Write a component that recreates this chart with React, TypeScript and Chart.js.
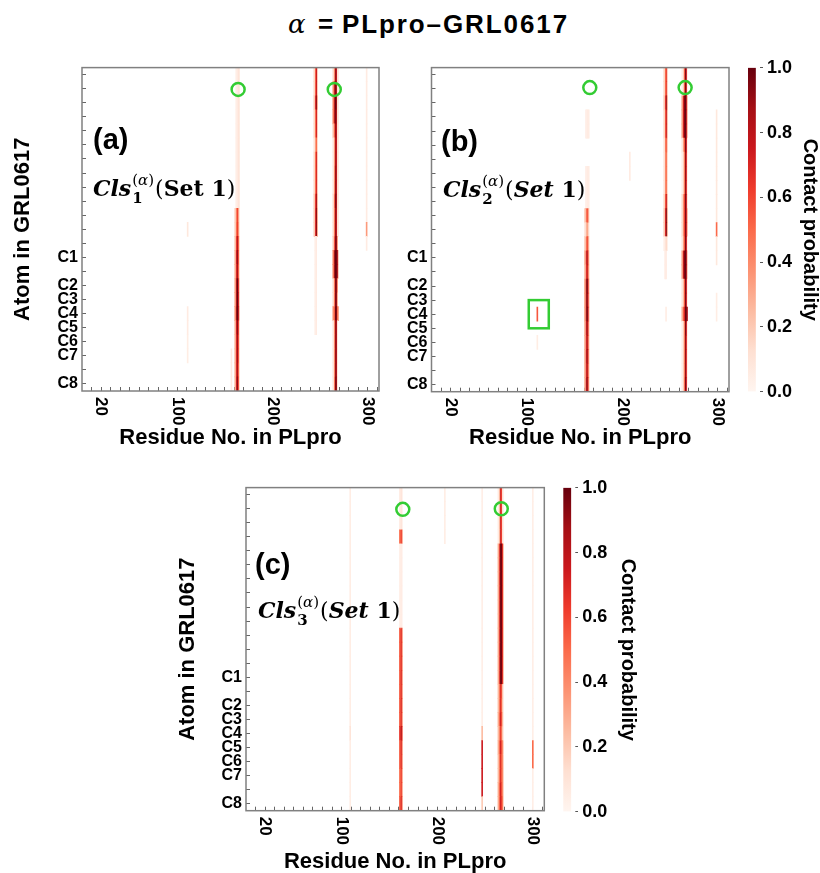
import React, { useEffect, useRef } from 'react';
import { Chart, registerables } from 'chart.js';

Chart.register(...registerables);

const SANS = '"Liberation Sans", Arial, sans-serif';
const SERIF = '"DejaVu Serif", serif';
Chart.defaults.font.family = SANS;
Chart.defaults.color = '#000';

// ---------- axis / tick content ----------
const ROW_LABELS = ['', '', '', '', '', '', '', '', '', '', '', '', '', 'C1', '', 'C2', 'C3', 'C4', 'C5', 'C6', 'C7', '', 'C8'];
const X_MIN = 0;
const X_MAX = 312;
const X_MINOR_TICKS = [10, 20, 30, 40, 50, 60, 70, 80, 90, 100, 110, 120, 130, 140, 150, 160, 170, 180, 190, 200, 210, 220, 230, 240, 250, 260, 270, 280, 290, 300, 310];
const X_TICK_LABELS = [20, 100, 200, 300];
const CB_TICKS = [0, 0.2, 0.4, 0.6, 0.8, 1.0];
const REDS = ['#fff5f0', '#fee0d2', '#fcbba1', '#fc9272', '#fb6a4a', '#ef3b2c', '#cb181d', '#a50f15', '#67000d'];

// ---------- panel (a): contact probability per residue, rows top -> bottom ----------
const A_RESIDUES = [111, 157, 161, 162, 163, 164, 165, 244, 245, 246, 247, 264, 265, 266, 267, 268, 269, 299];
const A_PROBS = [
  [0, 0, 0, 0, 0, 0, 0, 0, 0, 0, 0, 0.08, 0, 0, 0, 0, 0, 0.06, 0.06, 0.05, 0.05, 0, 0],
  [0, 0, 0, 0, 0, 0, 0, 0, 0, 0, 0, 0, 0, 0, 0, 0, 0, 0, 0, 0, 0.06, 0.06, 0.06],
  [0, 0, 0, 0, 0, 0, 0, 0, 0, 0, 0.2, 0.2, 0.25, 0.3, 0.3, 0.35, 0.35, 0.4, 0.3, 0.3, 0.3, 0.3, 0.3],
  [0.04, 0.04, 0.04, 0.04, 0.04, 0.04, 0.04, 0.04, 0.04, 0.04, 0.45, 0.5, 0.65, 0.75, 0.7, 0.85, 0.85, 0.9, 0.75, 0.7, 0.7, 0.7, 0.75],
  [0.06, 0.06, 0.06, 0.06, 0.06, 0.06, 0.06, 0.06, 0.06, 0.06, 0.6, 0.62, 0.8, 0.9, 0.85, 1, 1, 1, 0.92, 0.88, 0.88, 0.85, 0.92],
  [0.1, 0.1, 0.1, 0.1, 0.1, 0.1, 0.1, 0.1, 0.1, 0.1, 0.35, 0.4, 0.55, 0.6, 0.55, 0.7, 0.75, 0.8, 0.65, 0.6, 0.6, 0.55, 0.6],
  [0.08, 0.08, 0.08, 0.08, 0.08, 0.08, 0.08, 0.08, 0.08, 0.08, 0.1, 0.1, 0.15, 0.15, 0.15, 0.2, 0.2, 0.25, 0.15, 0.15, 0.15, 0.15, 0.15],
  [0.15, 0.15, 0.2, 0.15, 0.15, 0.1, 0.15, 0.15, 0.15, 0.2, 0.2, 0.2, 0, 0, 0, 0, 0, 0, 0, 0, 0, 0, 0],
  [0.55, 0.55, 0.7, 0.5, 0.5, 0.35, 0.5, 0.5, 0.5, 0.65, 0.7, 0.7, 0.04, 0.04, 0.04, 0.04, 0.04, 0.04, 0.04, 0, 0, 0, 0],
  [0.75, 0.75, 0.9, 0.72, 0.72, 0.5, 0.7, 0.7, 0.7, 0.85, 0.92, 0.92, 0.06, 0.06, 0.06, 0.06, 0.06, 0.06, 0.06, 0, 0, 0, 0],
  [0.2, 0.2, 0.3, 0.2, 0.2, 0.15, 0.2, 0.2, 0.2, 0.25, 0.3, 0.3, 0, 0, 0, 0, 0, 0, 0, 0, 0, 0, 0],
  [0.15, 0.4, 0.45, 0.45, 0.25, 0.1, 0.1, 0.1, 0.1, 0.15, 0.15, 0.15, 0.2, 0.45, 0.45, 0.15, 0.15, 0.4, 0.1, 0.1, 0.1, 0.1, 0.1],
  [0.45, 0.8, 0.85, 0.85, 0.55, 0.4, 0.4, 0.45, 0.45, 0.55, 0.5, 0.5, 0.6, 0.9, 0.9, 0.5, 0.5, 0.55, 0.45, 0.45, 0.45, 0.45, 0.5],
  [0.9, 0.95, 1, 0.95, 0.9, 0.85, 0.85, 0.9, 0.9, 0.95, 0.9, 0.9, 0.95, 1, 1, 0.95, 0.95, 1, 0.9, 0.9, 0.9, 0.9, 0.95],
  [0.8, 0.85, 0.9, 0.85, 0.8, 0.78, 0.78, 0.8, 0.8, 0.85, 0.8, 0.8, 0.9, 0.97, 0.97, 0.9, 0.9, 0.95, 0.85, 0.85, 0.85, 0.85, 0.9],
  [0.12, 0.12, 0.12, 0.12, 0.12, 0.12, 0.12, 0.12, 0.12, 0.12, 0.12, 0.12, 0.35, 0.85, 0.85, 0.4, 0.3, 0.5, 0.1, 0.1, 0.1, 0.1, 0.1],
  [0.08, 0.08, 0.08, 0.08, 0.08, 0.08, 0.08, 0.08, 0.08, 0.08, 0.08, 0.08, 0, 0.2, 0.2, 0, 0, 0.35, 0, 0, 0, 0, 0],
  [0.06, 0.06, 0.06, 0.06, 0.06, 0.06, 0.06, 0.06, 0.06, 0.06, 0.06, 0.35, 0.06, 0, 0, 0, 0, 0, 0, 0, 0, 0, 0],
];

// ---------- panel (b) ----------
const B_RESIDUES = [111, 161, 162, 163, 164, 165, 208, 244, 245, 246, 247, 263, 264, 265, 266, 267, 268, 299];
const B_PROBS = [
  [0, 0, 0, 0, 0, 0, 0, 0, 0, 0, 0, 0, 0, 0, 0, 0, 0, 0.55, 0, 0.05, 0, 0, 0],
  [0, 0, 0, 0, 0, 0, 0, 0, 0, 0, 0.2, 0.1, 0.2, 0.3, 0.25, 0.35, 0.35, 0.35, 0.3, 0.3, 0.3, 0.3, 0.3],
  [0, 0, 0, 0.04, 0.04, 0, 0, 0.04, 0.04, 0.04, 0.45, 0.25, 0.45, 0.7, 0.65, 0.85, 0.85, 0.85, 0.75, 0.7, 0.75, 0.7, 0.8],
  [0, 0, 0, 0.06, 0.06, 0, 0, 0.06, 0.06, 0.06, 0.6, 0.35, 0.62, 0.85, 0.8, 1, 0.95, 1, 0.9, 0.85, 0.9, 0.85, 0.92],
  [0, 0, 0, 0.06, 0.06, 0, 0, 0.06, 0.06, 0.06, 0.4, 0.2, 0.4, 0.55, 0.5, 0.65, 0.65, 0.7, 0.6, 0.55, 0.6, 0.55, 0.6],
  [0, 0, 0, 0.04, 0.04, 0, 0, 0.04, 0.04, 0.04, 0.1, 0.05, 0.1, 0.15, 0.15, 0.2, 0.2, 0.2, 0.15, 0.15, 0.15, 0.15, 0.15],
  [0, 0, 0, 0, 0, 0, 0.06, 0.06, 0, 0, 0, 0, 0, 0, 0, 0, 0, 0, 0, 0, 0, 0, 0],
  [0.15, 0.15, 0.2, 0.15, 0.15, 0.1, 0.1, 0.1, 0.1, 0.15, 0.2, 0.2, 0.04, 0, 0, 0, 0, 0, 0, 0, 0, 0, 0],
  [0.5, 0.5, 0.65, 0.55, 0.55, 0.45, 0.4, 0.4, 0.4, 0.55, 0.7, 0.7, 0.1, 0.05, 0.05, 0, 0, 0, 0, 0, 0, 0, 0],
  [0.65, 0.65, 0.9, 0.75, 0.75, 0.55, 0.5, 0.5, 0.5, 0.75, 0.95, 0.95, 0.15, 0.06, 0.06, 0, 0, 0.05, 0, 0, 0, 0, 0],
  [0.2, 0.2, 0.3, 0.25, 0.25, 0.2, 0.15, 0.15, 0.15, 0.25, 0.3, 0.3, 0.05, 0, 0, 0, 0, 0, 0, 0, 0, 0, 0],
  [0.05, 0.05, 0.35, 0.35, 0.35, 0.1, 0.05, 0.05, 0.05, 0.15, 0.15, 0.15, 0.1, 0.35, 0.35, 0.1, 0.1, 0.3, 0.05, 0.05, 0.05, 0.05, 0.05],
  [0.2, 0.2, 0.75, 0.75, 0.75, 0.35, 0.2, 0.2, 0.2, 0.4, 0.4, 0.4, 0.35, 0.8, 0.8, 0.25, 0.25, 0.55, 0.2, 0.2, 0.2, 0.2, 0.2],
  [0.55, 0.55, 0.95, 0.95, 0.95, 0.55, 0.45, 0.45, 0.45, 0.6, 0.6, 0.6, 0.55, 0.95, 0.95, 0.55, 0.55, 0.7, 0.45, 0.45, 0.45, 0.45, 0.5],
  [0.95, 0.95, 1, 1, 1, 0.95, 0.9, 0.9, 0.9, 0.95, 0.95, 0.95, 0.95, 1, 1, 0.95, 0.95, 1, 0.95, 0.9, 0.9, 0.9, 0.95],
  [0.75, 0.75, 0.8, 0.8, 0.8, 0.75, 0.7, 0.7, 0.7, 0.75, 0.75, 0.75, 0.75, 0.85, 0.85, 0.75, 0.75, 0.95, 0.75, 0.7, 0.7, 0.7, 0.75],
  [0.05, 0.05, 0.25, 0.25, 0.25, 0.05, 0.05, 0.05, 0.05, 0.1, 0.25, 0.25, 0.05, 0.2, 0.2, 0.05, 0.05, 0.85, 0.05, 0.05, 0.05, 0.05, 0.05],
  [0, 0, 0, 0.08, 0.08, 0.08, 0.08, 0.08, 0.08, 0.08, 0.08, 0.5, 0.08, 0.08, 0, 0, 0.05, 0.05, 0, 0, 0, 0, 0],
];

// ---------- panel (c) ----------
const C_RESIDUES = [109, 161, 162, 163, 208, 247, 264, 265, 266, 267, 268, 269, 300];
const C_PROBS = [
  [0.05, 0.05, 0.05, 0.05, 0.05, 0.05, 0.05, 0.05, 0.05, 0.05, 0.05, 0.05, 0.05, 0.05, 0.05, 0.05, 0.05, 0.1, 0.05, 0.05, 0.05, 0.05, 0.05],
  [0.06, 0.06, 0.06, 0.5, 0.04, 0.04, 0.04, 0.04, 0.04, 0.04, 0.55, 0.55, 0.55, 0.55, 0.55, 0.55, 0.55, 0.65, 0.55, 0.55, 0.5, 0.5, 0.55],
  [0.1, 0.1, 0.1, 0.65, 0.06, 0.06, 0.06, 0.06, 0.06, 0.06, 0.7, 0.7, 0.7, 0.72, 0.7, 0.72, 0.7, 0.85, 0.72, 0.7, 0.65, 0.65, 0.72],
  [0.06, 0.06, 0.06, 0.4, 0.03, 0.03, 0.03, 0.03, 0.03, 0.03, 0.45, 0.45, 0.45, 0.45, 0.45, 0.45, 0.45, 0.6, 0.45, 0.45, 0.4, 0.4, 0.45],
  [0.05, 0.05, 0.05, 0.05, 0, 0, 0, 0, 0, 0, 0, 0, 0, 0, 0, 0, 0, 0, 0, 0, 0, 0, 0],
  [0.04, 0.04, 0.04, 0.04, 0.04, 0.04, 0.04, 0.04, 0.04, 0.04, 0.04, 0.04, 0.04, 0.04, 0.04, 0.04, 0.04, 0.25, 0.75, 0.75, 0.75, 0.75, 0.2],
  [0.06, 0.06, 0.06, 0.06, 0.3, 0.3, 0.3, 0.3, 0.3, 0.3, 0.3, 0.3, 0.3, 0.3, 0.25, 0.25, 0.3, 0.25, 0.3, 0.25, 0.25, 0.3, 0.3],
  [0.3, 0.3, 0.3, 0.3, 0.7, 0.7, 0.7, 0.7, 0.7, 0.7, 0.7, 0.7, 0.7, 0.7, 0.5, 0.5, 0.55, 0.45, 0.55, 0.5, 0.5, 0.55, 0.55],
  [0.75, 0.75, 0.75, 0.75, 1, 1, 1, 1, 1, 1, 1, 1, 1, 1, 0.7, 0.7, 0.75, 0.65, 0.75, 0.7, 0.7, 0.75, 0.75],
  [0.6, 0.6, 0.6, 0.6, 0.97, 0.97, 0.97, 0.97, 0.97, 0.97, 0.97, 0.97, 0.97, 0.97, 0.55, 0.5, 0.55, 0.45, 0.55, 0.5, 0.5, 0.55, 0.6],
  [0.05, 0.05, 0.05, 0.05, 0.65, 0.65, 0.65, 0.65, 0.65, 0.65, 0.65, 0.65, 0.65, 0.65, 0.2, 0.2, 0.25, 0.2, 0.4, 0.4, 0.4, 0.4, 0.45],
  [0.03, 0.03, 0.03, 0.03, 0.2, 0.2, 0.2, 0.2, 0.2, 0.2, 0.2, 0.2, 0.2, 0.2, 0.05, 0.05, 0.05, 0.05, 0.15, 0.15, 0.15, 0.15, 0.15],
  [0.04, 0.04, 0.04, 0.04, 0.04, 0.04, 0.04, 0.04, 0.04, 0.04, 0.04, 0.04, 0.04, 0.04, 0.04, 0.04, 0.04, 0.04, 0.5, 0.5, 0.04, 0.04, 0.04],
];

// ---------- annotation marks (residue, row index) ----------
const A_CIRCLES = [{ res: 164, row: 1.05 }, { res: 265, row: 1.05 }];
const B_CIRCLES = [{ res: 166, row: 0.92 }, { res: 266, row: 0.92 }];
const C_CIRCLES = [{ res: 164, row: 1.05 }, { res: 267, row: 1.0 }];
const B_RECTS = [{ r0: 102, r1: 123, row0: 16, row1: 18 }];

function hexToRgb(h: string) {
  return [parseInt(h.slice(1, 3), 16), parseInt(h.slice(3, 5), 16), parseInt(h.slice(5, 7), 16)];
}
function redsColor(v: number): string {
  const t = Math.max(0, Math.min(1, v)) * (REDS.length - 1);
  const i = Math.min(REDS.length - 2, Math.floor(t));
  const f = t - i;
  const a = hexToRgb(REDS[i]);
  const b = hexToRgb(REDS[i + 1]);
  const c = a.map((x, k) => Math.round(x + (b[k] - x) * f));
  return `rgb(${c[0]},${c[1]},${c[2]})`;
}

type PanelSpec = {
  key: string; left: number; top: number; w: number; h: number;
  yAxisW: number; padTop: number; padRight: number; xAxisH: number;
  yTitle: boolean; yTitlePad: number;
  letter: string; letterDx: number; letterDy: number;
  idx: string; italicSet: boolean; clsDx: number; clsDy: number;
  residues: number[]; probs: number[][];
  circles: { res: number; row: number }[];
  rects: { r0: number; r1: number; row0: number; row1: number }[];
};

const PANELS: PanelSpec[] = [
  { key: 'a', left: 0, top: 50, w: 392, h: 399, yAxisW: 82, padTop: 16, padRight: 13, xAxisH: 58,
    yTitle: true, yTitlePad: 12, letter: '(a)', letterDx: 11, letterDy: 81.5, idx: '1', italicSet: false, clsDx: 11, clsDy: 128,
    residues: A_RESIDUES, probs: A_PROBS, circles: A_CIRCLES, rects: [] },
  { key: 'b', left: 400, top: 50, w: 340, h: 399, yAxisW: 31.5, padTop: 17, padRight: 11, xAxisH: 57.3,
    yTitle: false, yTitlePad: 0, letter: '(b)', letterDx: 9.5, letterDy: 83, idx: '2', italicSet: true, clsDx: 11.5, clsDy: 129.7,
    residues: B_RESIDUES, probs: B_PROBS, circles: B_CIRCLES, rects: B_RECTS },
  { key: 'c', left: 160, top: 470, w: 395, h: 403, yAxisW: 86, padTop: 15.7, padRight: 10.7, xAxisH: 62.3,
    yTitle: true, yTitlePad: 17, letter: '(c)', letterDx: 9, letterDy: 86, idx: '3', italicSet: true, clsDx: 12, clsDy: 130,
    residues: C_RESIDUES, probs: C_PROBS, circles: C_CIRCLES, rects: [] },
];

type CbSpec = { key: string; left: number; top: number; w: number; h: number; padLeft: number; padTop: number; padBottom: number; axisW: number };
const COLORBARS: CbSpec[] = [
  { key: 'cbb', left: 740, top: 50, w: 80, h: 360, padLeft: 8, padTop: 16.7, padBottom: 18.3, axisW: 57 },
  { key: 'cbc', left: 555, top: 470, w: 83, h: 360, padLeft: 8.3, padTop: 15, padBottom: 18.3, axisW: 59.7 },
];

function drawCls(ctx: CanvasRenderingContext2D, x: number, y: number, idx: string, italicSet: boolean) {
  ctx.textAlign = 'left';
  ctx.textBaseline = 'alphabetic';
  ctx.fillStyle = '#000';
  let cx = x;
  ctx.font = `italic bold 22px ${SERIF}`;
  ctx.fillText('Cls', cx, y);
  cx += ctx.measureText('Cls').width;
  const sX = cx + 1;
  ctx.font = `bold 15px ${SERIF}`;
  ctx.fillText(idx, sX, y + 7);
  const subW = ctx.measureText(idx).width;
  let px = sX;
  ctx.font = `15px ${SERIF}`;
  ctx.fillText('(', px, y - 11);
  px += ctx.measureText('(').width;
  ctx.font = `italic 15px ${SERIF}`;
  ctx.fillText('α', px, y - 11);
  px += ctx.measureText('α').width;
  ctx.font = `15px ${SERIF}`;
  ctx.fillText(')', px, y - 11);
  px += ctx.measureText(')').width;
  cx = Math.max(sX + subW, px) + 1;
  ctx.font = `22px ${SERIF}`;
  ctx.fillText('(', cx, y);
  cx += ctx.measureText('(').width;
  ctx.font = italicSet ? `italic bold 22px ${SERIF}` : `bold 22px ${SERIF}`;
  ctx.fillText('Set', cx, y);
  cx += ctx.measureText('Set').width;
  ctx.font = `bold 22px ${SERIF}`;
  ctx.fillText(' 1', cx, y);
  cx += ctx.measureText(' 1').width;
  ctx.font = `22px ${SERIF}`;
  ctx.fillText(')', cx, y);
}

function overlayPlugin(s: PanelSpec) {
  return {
    id: 'overlay_' + s.key,
    afterDraw(chart: any) {
      const { ctx, chartArea: a } = chart;
      const x = chart.scales.x;
      const y = chart.scales.y;
      ctx.save();
      ctx.strokeStyle = '#808080';
      ctx.lineWidth = 1.5;
      ctx.strokeRect(a.left, a.top, a.right - a.left, a.bottom - a.top);
      ctx.fillStyle = '#000';
      ctx.font = `bold 17px ${SANS}`;
      ctx.textAlign = 'left';
      ctx.textBaseline = 'middle';
      X_TICK_LABELS.forEach((v) => {
        const px = x.getPixelForValue(v);
        ctx.save();
        ctx.translate(px, a.bottom + 6);
        ctx.rotate(Math.PI / 2);
        ctx.fillText(String(v), 0, 0);
        ctx.restore();
      });
      ctx.strokeStyle = '#33cc33';
      ctx.lineWidth = 2.5;
      s.circles.forEach((c) => {
        ctx.beginPath();
        ctx.arc(x.getPixelForValue(c.res), y.getPixelForValue(c.row), 6.5, 0, Math.PI * 2);
        ctx.stroke();
      });
      s.rects.forEach((r) => {
        const x0 = x.getPixelForValue(r.r0);
        const x1 = x.getPixelForValue(r.r1);
        const y0 = y.getPixelForValue(r.row0);
        const y1 = y.getPixelForValue(r.row1);
        ctx.strokeRect(x0, y0, x1 - x0, y1 - y0);
      });
      ctx.fillStyle = '#000';
      ctx.font = `bold 29px ${SANS}`;
      ctx.textBaseline = 'alphabetic';
      ctx.fillText(s.letter, a.left + s.letterDx, a.top + s.letterDy);
      drawCls(ctx, a.left + s.clsDx, a.top + s.clsDy, s.idx, s.italicSet);
      ctx.restore();
    },
  };
}

function Heatmap({ s }: { s: PanelSpec }) {
  const ref = useRef<HTMLCanvasElement>(null);
  useEffect(() => {
    const datasets = s.residues.map((r, k) => ({
      label: 'Residue ' + r,
      data: s.probs[k].map((p) => (p > 0 ? [r - 0.5, r + 0.5] : null)),
      backgroundColor: s.probs[k].map((p) => redsColor(p)),
      borderWidth: 0,
      grouped: false,
      barPercentage: 1,
      categoryPercentage: 1,
    }));
    const chart = new Chart(ref.current as HTMLCanvasElement, {
      type: 'bar',
      data: { labels: ROW_LABELS, datasets: datasets as any },
      options: {
        indexAxis: 'y',
        animation: false,
        responsive: false,
        events: [],
        layout: { padding: { top: s.padTop, right: s.padRight, left: 0, bottom: 0 } },
        plugins: { legend: { display: false }, tooltip: { enabled: false } },
        scales: {
          x: {
            type: 'linear',
            position: 'bottom',
            min: X_MIN,
            max: X_MAX,
            afterBuildTicks: (sc: any) => { sc.ticks = X_MINOR_TICKS.map((v) => ({ value: v })); },
            ticks: { display: false },
            grid: { drawOnChartArea: false, drawTicks: true, tickLength: -4, color: '#666', lineWidth: 1 },
            border: { display: false },
            title: { display: true, text: 'Residue No. in PLpro', color: '#000', font: { size: 22, weight: 'bold', lineHeight: 1 }, padding: 0 },
            afterFit: (sc: any) => { sc.height = s.xAxisH; },
          },
          y: {
            type: 'category',
            position: 'left',
            offset: true,
            ticks: { autoSkip: false, color: '#000', padding: 8, font: { size: 16, weight: 'bold' } },
            grid: { offset: false, drawOnChartArea: false, drawTicks: true, tickLength: -4, color: '#666', lineWidth: 1 },
            border: { display: false },
            title: { display: s.yTitle, text: 'Atom in GRL0617', color: '#000', font: { size: 22, weight: 'bold', lineHeight: 1 }, padding: { top: s.yTitlePad, bottom: 0 } },
            afterFit: (sc: any) => { sc.width = s.yAxisW; },
          },
        },
      } as any,
      plugins: [overlayPlugin(s)],
    });
    return () => chart.destroy();
  }, []);
  return (
    <canvas ref={ref} width={s.w} height={s.h}
      style={{ position: 'absolute', left: s.left, top: s.top, width: s.w, height: s.h }} />
  );
}

function ColorBar({ s }: { s: CbSpec }) {
  const ref = useRef<HTMLCanvasElement>(null);
  useEffect(() => {
    const chart = new Chart(ref.current as HTMLCanvasElement, {
      type: 'bar',
      data: {
        labels: [''],
        datasets: [{
          label: 'Contact probability',
          data: [[CB_TICKS[0], CB_TICKS[CB_TICKS.length - 1]]] as any,
          backgroundColor: (c: any) => {
            const ch = c.chart;
            const ys = ch.scales && ch.scales.y;
            if (!ys) return REDS[4];
            const p0 = ys.getPixelForValue(0);
            const p1 = ys.getPixelForValue(1);
            if (!isFinite(p0) || !isFinite(p1) || p0 === p1) return REDS[4];
            const g = ch.ctx.createLinearGradient(0, p0, 0, p1);
            REDS.forEach((col, i) => g.addColorStop(i / (REDS.length - 1), col));
            return g;
          },
          borderWidth: 0,
          barPercentage: 1,
          categoryPercentage: 1,
        }],
      },
      options: {
        animation: false,
        responsive: false,
        events: [],
        layout: { padding: { top: s.padTop, bottom: s.padBottom, left: s.padLeft, right: 0 } },
        plugins: { legend: { display: false }, tooltip: { enabled: false } },
        scales: {
          x: { display: false, offset: false },
          y: {
            position: 'right',
            min: 0,
            max: 1,
            afterBuildTicks: (sc: any) => { sc.ticks = CB_TICKS.map((v) => ({ value: v })); },
            ticks: { color: '#000', padding: 7, font: { size: 18, weight: 'bold' }, callback: (v: any) => Number(v).toFixed(1) },
            grid: { drawOnChartArea: false, drawTicks: true, tickLength: -3, color: '#555', lineWidth: 1 },
            border: { display: false },
            title: { display: true, text: 'Contact probability', color: '#000', font: { size: 20, weight: 'bold', lineHeight: 1 }, padding: 0 },
            afterFit: (sc: any) => { sc.width = s.axisW; },
          },
        },
      } as any,
    });
    chart.update();
    return () => chart.destroy();
  }, []);
  return (
    <canvas ref={ref} width={s.w} height={s.h}
      style={{ position: 'absolute', left: s.left, top: s.top, width: s.w, height: s.h }} />
  );
}

export default function App() {
  const titleBase: React.CSSProperties = {
    position: 'absolute', top: 12, whiteSpace: 'nowrap', fontFamily: SANS, fontWeight: 'bold',
    fontSize: 26, lineHeight: '25px', color: '#000',
  };
  return (
    <div style={{ position: 'absolute', left: 0, top: 0, width: 820, height: 873, background: '#fff', overflow: 'hidden' }}>
      <span style={{ ...titleBase, left: 288, fontFamily: SERIF, fontStyle: 'italic', fontWeight: 'normal', fontSize: 26 }}>α</span>
      <span style={{ ...titleBase, left: 318 }}>=</span>
      <span style={{ ...titleBase, left: 342, letterSpacing: '1.9px' }}>PLpro–GRL0617</span>
      {PANELS.map((p) => <Heatmap key={p.key} s={p} />)}
      {COLORBARS.map((c) => <ColorBar key={c.key} s={c} />)}
    </div>
  );
}
